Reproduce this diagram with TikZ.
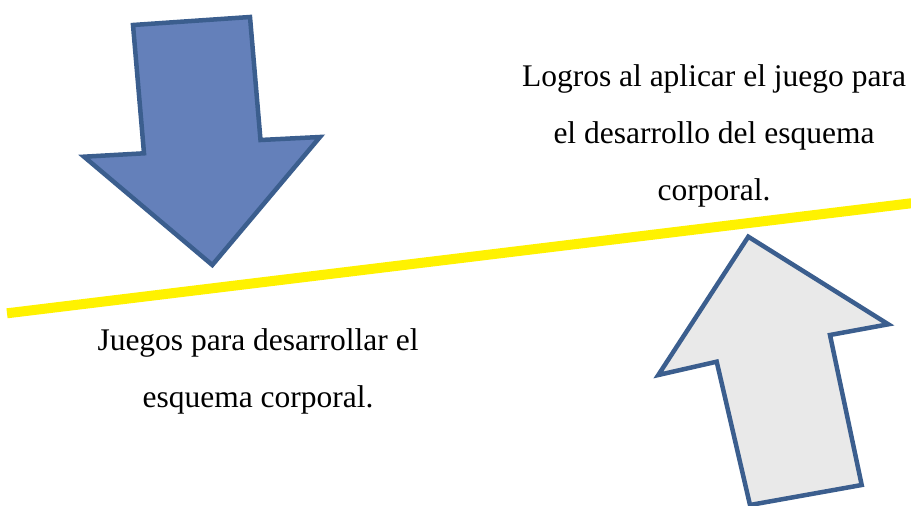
\documentclass[tikz,border=0pt]{standalone}
\usepackage{fontspec}
\setmainfont{Liberation Serif}
\usetikzlibrary{positioning}

\definecolor{arrowedge}{RGB}{59,94,142}
\definecolor{denim}{RGB}{100,128,186}
\definecolor{paper}{RGB}{233,233,233}

\begin{document}
\begin{tikzpicture}[x=1pt, y=-1pt,
    arrowshape/.style={draw=arrowedge, line width=4.5pt, line join=miter},
    caption/.style={align=center, font=\fontsize{31.5}{57}\selectfont}]
  \useasboundingbox (0,0) rectangle (911,506);

  % Dividing line
  \draw[yellow, line width=10pt] (7,313.3) -- (915,202.8);

  % Down arrow
  \filldraw[arrowshape, fill=denim]
    (133,25) -- (250,17) -- (260.5,140) -- (320,137) -- (212.3,265)
    -- (84,156.7) -- (144,153.3) -- cycle;

  % Up arrow
  \filldraw[arrowshape, fill=paper]
    (748.3,236.7) -- (888.3,324.3) -- (830,335) -- (861.7,485)
    -- (750,505) -- (716.7,361.7) -- (658.3,375) -- cycle;

  % Texts
  \node[caption] (logros) at (714,136)
    {Logros al aplicar el juego para\\el desarrollo del esquema\\corporal.};
  \node[caption] (juegos) at (258,371)
    {Juegos para desarrollar el\\esquema corporal.};
\end{tikzpicture}
\end{document}
